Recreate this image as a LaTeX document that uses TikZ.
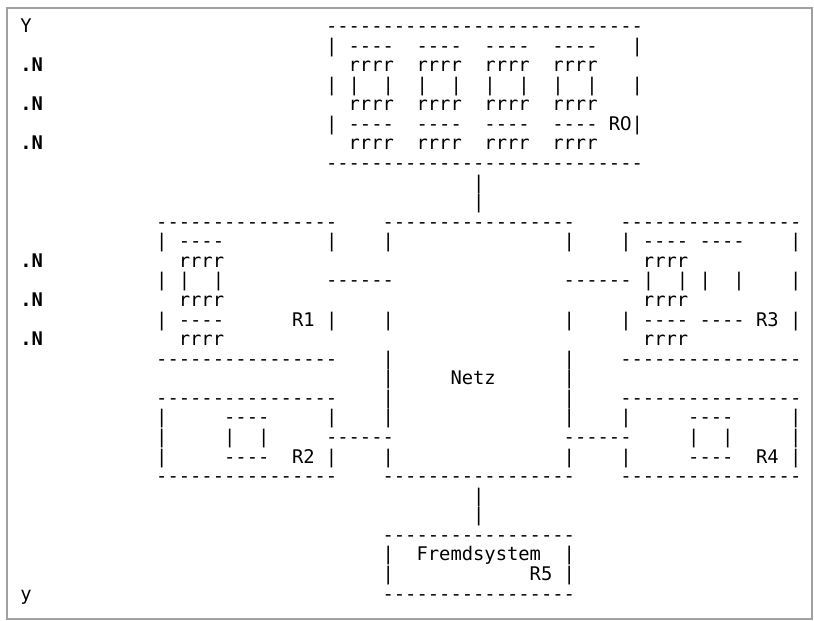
\documentclass[tikz,border=0pt]{standalone}
\usepackage{fontspec}
\setmonofont{DejaVu Sans Mono}[Ligatures=TeXOff]
\newfontfamily\zerofont{DejaVu Sans}
\usepackage{tikz}
\definecolor{framegray}{RGB}{160,160,160}
\newcommand{\artfont}{\ttfamily\fontsize{14.1pt}{14.68pt}\selectfont}
\newcommand{\zero}{\makebox[0.602em][c]{\zerofont 0}}

\begin{document}
\begin{tikzpicture}[x=0.75pt, y=-0.75pt,
  txt/.style={font=\artfont, anchor=base west, inner sep=0pt, outer sep=0pt},
  lbl/.style={txt, font=\artfont\bfseries}]
  \useasboundingbox (0,0) rectangle (814,621);
  \draw[framegray, line width=1.1pt] (7,8) rectangle (812,619);
  \begin{scope}[shift={(20.4,32.5)}, x=8.489pt, y=-14.6775pt]
    \node[txt] (ytop) at (0,0) {Y};
    \node[lbl] (n1) at (0,2) {.N};
    \node[lbl] (n2) at (0,4) {.N};
    \node[lbl] (n3) at (0,6) {.N};
    \node[lbl] (n4) at (0,12) {.N};
    \node[lbl] (n5) at (0,14) {.N};
    \node[lbl] (n6) at (0,16) {.N};
    \node[txt] (ybot) at (0,29) {y};

    \node[txt] (r0-t) at (27,0) {----------------------------};
    \node[txt] (r0-a) at (27,1) {|~----~~----~~----~~----~~~|};
    \node[txt] (r0-ra) at (29,2) {rrrr~~rrrr~~rrrr~~rrrr};
    \node[txt] (r0-b) at (27,3) {|~|~~|~~|~~|~~|~~|~~|~~|~~~|};
    \node[txt] (r0-rb) at (29,4) {rrrr~~rrrr~~rrrr~~rrrr};
    \node[txt] (r0-c) at (27,5) {|~----~~----~~----~~----~R\zero|};
    \node[txt] (r0-rc) at (29,6) {rrrr~~rrrr~~rrrr~~rrrr};
    \node[txt] (r0-u) at (27,7) {----------------------------};
    \node[txt] (l0-a) at (40,8) {|};
    \node[txt] (l0-b) at (40,9) {|};

    \node[txt] (r1-t) at (12,10) {----------------};
    \node[txt] (r1-a) at (12,11) {|~----~~~~~~~~~|};
    \node[txt] (r1-ra) at (14,12) {rrrr};
    \node[txt] (r1-b) at (12,13) {|~|~~|};
    \node[txt] (r1-rb) at (14,14) {rrrr};
    \node[txt] (r1-c) at (12,15) {|~----~~~~~~R1~|};
    \node[txt] (r1-rc) at (14,16) {rrrr};
    \node[txt] (r1-u) at (12,17) {----------------};
    \node[txt] (l1) at (27,13) {------};

    \node[txt] (netz-t) at (32,10) {-----------------};
    \node[txt] (netz-a) at (32,11) {|~~~~~~~~~~~~~~~|};
    \node[txt] (netz-b) at (32,15) {|~~~~~~~~~~~~~~~|};
    \node[txt] (netz-c) at (32,17) {|~~~~~~~~~~~~~~~|};
    \node[txt] (netz) at (32,18) {|~~~~~Netz~~~~~~|};
    \node[txt] (netz-d) at (32,19) {|~~~~~~~~~~~~~~~|};
    \node[txt] (netz-e) at (32,20) {|~~~~~~~~~~~~~~~|};
    \node[txt] (netz-f) at (32,22) {|~~~~~~~~~~~~~~~|};
    \node[txt] (netz-u) at (32,23) {-----------------};

    \node[txt] (r3-t) at (53,10) {----------------};
    \node[txt] (r3-a) at (53,11) {|~----~----~~~~|};
    \node[txt] (r3-ra) at (55,12) {rrrr};
    \node[txt] (l3) at (48,13) {------};
    \node[txt] (r3-b) at (55,13) {|~~|~|~~|~~~~|};
    \node[txt] (r3-rb) at (55,14) {rrrr};
    \node[txt] (r3-c) at (53,15) {|~----~----~R3~|};
    \node[txt] (r3-rc) at (55,16) {rrrr};
    \node[txt] (r3-u) at (53,17) {----------------};

    \node[txt] (r2-t) at (12,19) {----------------};
    \node[txt] (r2-a) at (12,20) {|~~~~~----~~~~~|};
    \node[txt] (r2-b) at (12,21) {|~~~~~|~~|};
    \node[txt] (l2) at (27,21) {------};
    \node[txt] (r2-c) at (12,22) {|~~~~~----~~R2~|};
    \node[txt] (r2-u) at (12,23) {----------------};

    \node[txt] (r4-t) at (53,19) {----------------};
    \node[txt] (r4-a) at (53,20) {|~~~~~----~~~~~|};
    \node[txt] (l4) at (48,21) {------};
    \node[txt] (r4-b) at (59,21) {|~~|~~~~~|};
    \node[txt] (r4-c) at (53,22) {|~~~~~----~~R4~|};
    \node[txt] (r4-u) at (53,23) {----------------};

    \node[txt] (l5-a) at (40,24) {|};
    \node[txt] (l5-b) at (40,25) {|};
    \node[txt] (r5-t) at (32,26) {-----------------};
    \node[txt] (r5-a) at (32,27) {|~~Fremdsystem~~|};
    \node[txt] (r5-b) at (32,28) {|~~~~~~~~~~~~R5~|};
    \node[txt] (r5-u) at (32,29) {-----------------};
  \end{scope}
\end{tikzpicture}
\end{document}
